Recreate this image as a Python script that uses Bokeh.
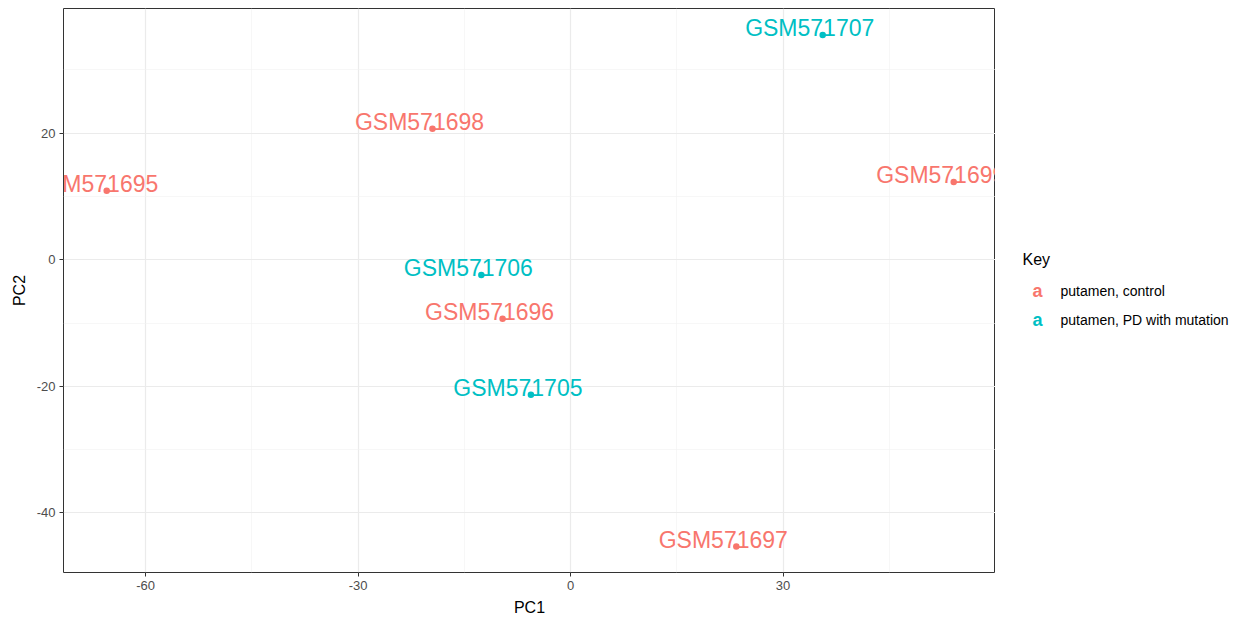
from bokeh.plotting import figure
from bokeh.layouts import row
from bokeh.models import ColumnDataSource, FixedTicker, Range1d
from bokeh.embed import file_html
from bokeh.resources import INLINE
from bokeh.core.properties import value

# ---- data ----
samples = ["GSM571695", "GSM571698", "GSM571699", "GSM571707",
           "GSM571706", "GSM571696", "GSM571705", "GSM571697"]
pc1 = [-65.5, -19.5, 54.1, 35.6, -12.6, -9.6, -5.6, 23.4]
pc2 = [10.9, 20.7, 12.3, 35.5, -2.4, -9.3, -21.3, -45.3]
groups = ["putamen, control", "putamen, control", "putamen, control",
          "putamen, PD with mutation", "putamen, PD with mutation",
          "putamen, control", "putamen, PD with mutation", "putamen, control"]
key_labels = ["putamen, control", "putamen, PD with mutation"]
key_colors = ["#F8766D", "#00BFC4"]
x_ticks = [-60, -30, 0, 30]
x_minor = [-75, -45, -15, 15, 45]
y_ticks = [-40, -20, 0, 20]
y_minor = [-50, -30, -10, 10, 30]

FONT = "Liberation Sans"
XMIN, XMAX = -71.6, 60.0
YMIN, YMAX = -49.4, 39.7

color_map = dict(zip(key_labels, key_colors))
src = ColumnDataSource(dict(x=pc1, y=pc2, label=samples,
                            color=[color_map[g] for g in groups]))

p = figure(width=995, height=620, output_backend="svg", toolbar_location=None,
           x_range=Range1d(XMIN, XMAX), y_range=Range1d(YMIN, YMAX),
           min_border_left=63, min_border_right=0, min_border_top=8,
           min_border_bottom=48)

p.background_fill_color = "white"
p.border_fill_color = "white"
p.outline_line_color = "#333333"
p.outline_line_width = 1

for ax in (p.xaxis[0], p.yaxis[0]):
    ax.axis_line_color = None
    ax.major_tick_line_color = "#333333"
    ax.major_tick_in = 0
    ax.major_tick_out = 4
    ax.minor_tick_line_color = None
    ax.major_label_text_font = FONT
    ax.major_label_text_font_size = "13px"
    ax.major_label_text_color = "#4D4D4D"
    ax.major_label_standoff = 4
    ax.axis_label_text_font = FONT
    ax.axis_label_text_font_size = "16px"
    ax.axis_label_text_font_style = "normal"
    ax.axis_label_text_color = "black"
    ax.axis_label_standoff = 6

p.xaxis.ticker = FixedTicker(ticks=x_ticks, minor_ticks=x_minor)
p.yaxis.ticker = FixedTicker(ticks=y_ticks, minor_ticks=y_minor)
p.xaxis.major_label_overrides = {t: str(t) for t in x_ticks}
p.yaxis.major_label_overrides = {t: str(t) for t in y_ticks}
p.xaxis.axis_label = "PC1"
p.yaxis.axis_label = "PC2"

for g in (p.xgrid[0], p.ygrid[0]):
    g.grid_line_color = "#EBEBEB"
    g.grid_line_width = 1.2
    g.minor_grid_line_color = "#F2F2F2"
    g.minor_grid_line_width = 0.6

p.text(x="x", y="y", text="label", source=src, text_color="color",
       text_font=value(FONT), text_font_size="23px", text_align="center",
       text_baseline="middle", x_offset=-13, y_offset=-7)
p.scatter(x="x", y="y", source=src, size=6.5, color="color", line_color=None)

# ---- legend panel (separate figure, coordinates in its own units) ----
leg = figure(width=249, height=620, output_backend="svg", toolbar_location=None,
             x_range=Range1d(995, 1244), y_range=Range1d(620, 0),
             x_axis_location=None, y_axis_location=None, title=None,
             min_border=0, outline_line_color=None)
leg.grid.visible = False
leg.background_fill_color = "white"
leg.border_fill_color = "white"

leg.text(x=[1022], y=[276], text=["Key"], text_font=value(FONT),
         text_font_size="16px", text_color="black",
         text_align="left", text_baseline="middle")
rows_py = [311, 342]
leg.text(x=[1037] * 2, y=rows_py, text=["a", "a"], text_font=value(FONT),
         text_font_size="18px", text_font_style="bold", text_color=key_colors,
         text_align="center", text_baseline="middle")
leg.text(x=[1060] * 2, y=rows_py, text=key_labels, text_font=value(FONT),
         text_font_size="14px", text_color="black",
         text_align="left", text_baseline="middle")

layout = row(p, leg, spacing=0)
open("out.html", "w").write(file_html(layout, INLINE))
